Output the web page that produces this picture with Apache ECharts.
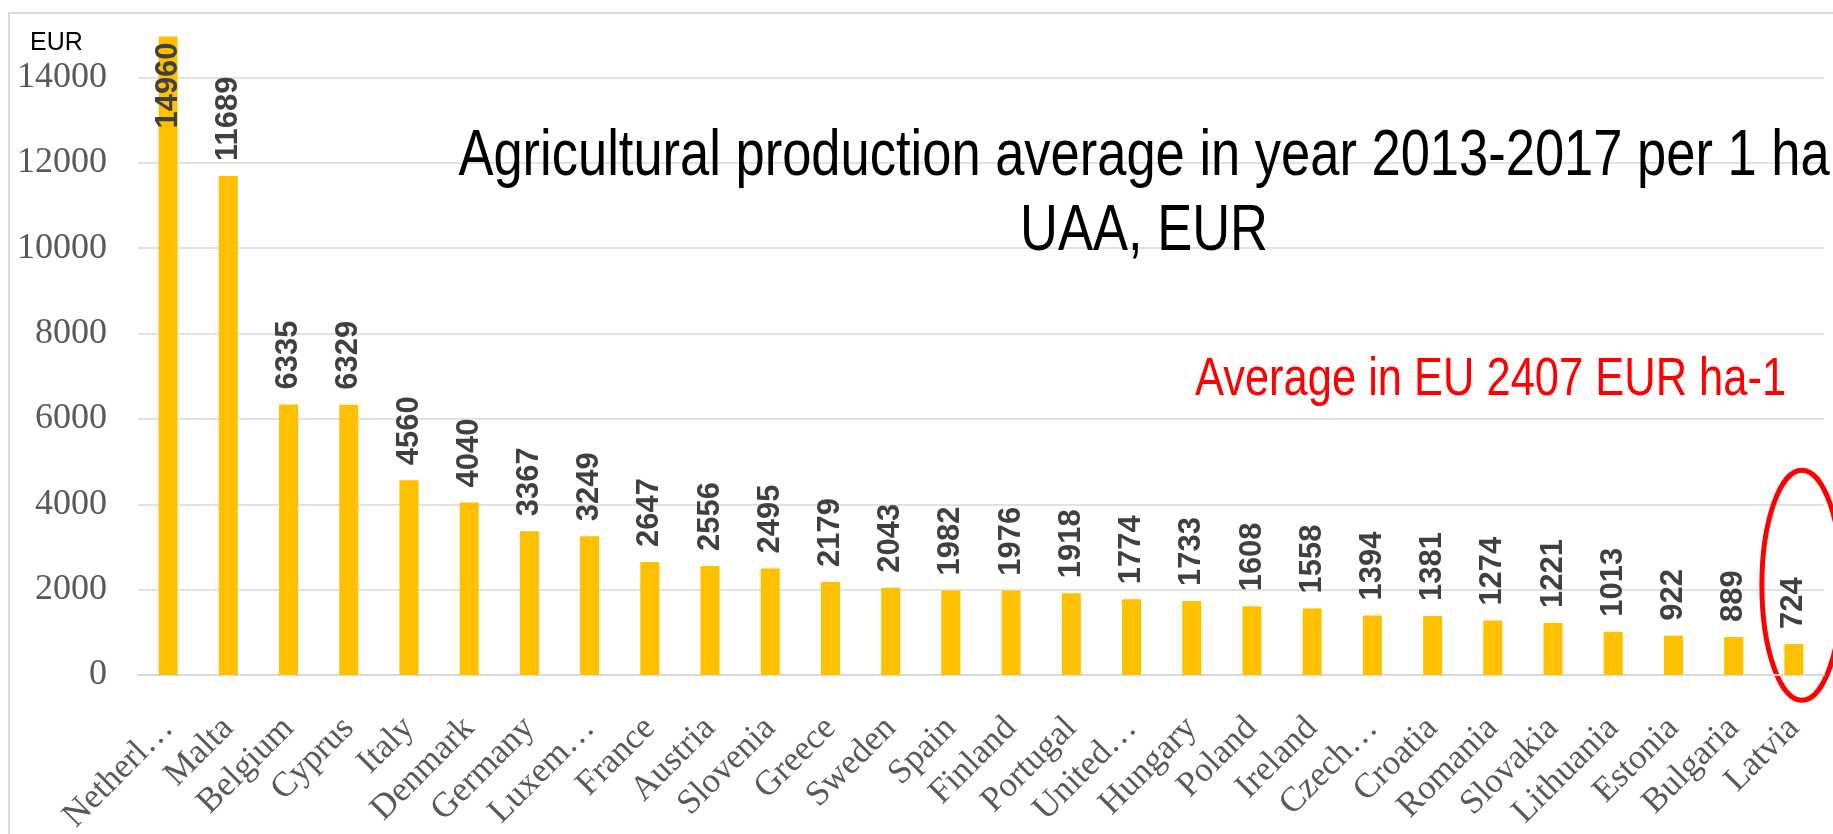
<!DOCTYPE html>
<html>
<head>
<meta charset="utf-8">
<script src="https://cdn.jsdelivr.net/npm/echarts@6/dist/echarts.min.js"></script>
<style>
  html, body { margin: 0; padding: 0; background: #fff; }
  #chart { width: 1833px; height: 834px; }
</style>
</head>
<body>
<div id="chart"></div>
<script>
// countries as shown on the axis (Excel truncated the long ones)
const countries = [
  'Netherl…', 'Malta', 'Belgium', 'Cyprus', 'Italy', 'Denmark', 'Germany',
  'Luxem…', 'France', 'Austria', 'Slovenia', 'Greece', 'Sweden', 'Spain',
  'Finland', 'Portugal', 'United…', 'Hungary', 'Poland', 'Ireland', 'Czech…',
  'Croatia', 'Romania', 'Slovakia', 'Lithuania', 'Estonia', 'Bulgaria', 'Latvia'
];
const values = [
  14960, 11689, 6335, 6329, 4560, 4040, 3367,
  3249, 2647, 2556, 2495, 2179, 2043, 1982,
  1976, 1918, 1774, 1733, 1608, 1558, 1394,
  1381, 1274, 1221, 1013, 922, 889, 724
];
const yMin = 0;
const yMax = 16000;
const yStep = 2000;

const titleLines = ['Agricultural production average in year 2013-2017 per 1 ha', 'UAA, EUR'];
const noteText = 'Average in EU 2407 EUR ha-1';
const unitText = 'EUR';
const highlighted = 'Latvia';

const sans = "'Liberation Sans', Arial, sans-serif";
const serif = "'Liberation Serif', 'Times New Roman', serif";
const gridColor = '#D9D9D9';
const squeeze = 0.82; // Arial -> Arial Narrow look

const chart = echarts.init(document.getElementById('chart'));

// tallest bar has no room above it, so its label goes inside
const barData = values.map((v, i) =>
  i === 0 ? { value: v, label: { position: 'insideTop', align: 'right', distance: 6 } } : v
);

chart.setOption({
  animation: false,
  backgroundColor: '#fff',
  // top of the value axis (16000) sits just above the picture
  grid: { left: 138, right: 9, top: -8, bottom: 159, outerBoundsMode: 'none' },
  xAxis: {
    type: 'category',
    data: countries,
    axisTick: { show: false },
    axisLine: { lineStyle: { color: gridColor, width: 2 } },
    axisLabel: {
      interval: 0,
      rotate: 45,
      margin: 48,
      // top padding nudges the slanted text to the right, like Excel
      padding: [70, 0, 0, 0],
      fontFamily: serif,
      fontSize: 35,
      color: '#595959'
    }
  },
  yAxis: {
    type: 'value',
    min: yMin,
    max: yMax,
    interval: yStep,
    axisLine: { show: false },
    axisTick: { show: false },
    splitLine: { lineStyle: { color: gridColor, width: 1.5 } },
    axisLabel: {
      margin: 31,
      showMaxLabel: false,
      formatter: (v) => String(v),
      fontFamily: serif,
      fontSize: 36,
      color: '#595959'
    }
  },
  series: [{
    type: 'bar',
    data: barData,
    barWidth: 19,
    itemStyle: { color: '#FFC000' },
    label: {
      show: true,
      position: 'top',
      rotate: 90,
      align: 'left',
      verticalAlign: 'middle',
      distance: 15,
      fontFamily: sans,
      fontSize: 31,
      fontWeight: 'bold',
      color: '#404040'
    }
  }]
});

// annotations: frame, unit, title, red note and the ring around Latvia
const ringCentre = chart.convertToPixel({ gridIndex: 0 }, [countries.indexOf(highlighted), 2100]);

chart.setOption({
  graphic: [
    {
      type: 'rect',
      z: -1,
      shape: { x: 9, y: 13, width: 1900, height: 900 },
      style: { fill: null, stroke: gridColor, lineWidth: 2 }
    },
    {
      type: 'text',
      x: 30, y: 43,
      style: { text: unitText, font: '25px ' + sans, fill: '#000', verticalAlign: 'middle' }
    },
    {
      type: 'text',
      x: 1144, y: 120,
      scaleX: squeeze,
      style: {
        text: titleLines.join('\n'),
        font: '64px ' + sans,
        lineHeight: 75,
        fill: '#000',
        align: 'center',
        verticalAlign: 'top'
      }
    },
    {
      type: 'text',
      x: 1195, y: 380,
      scaleX: squeeze,
      style: { text: noteText, font: '53px ' + sans, fill: '#FF0000', verticalAlign: 'middle' }
    },
    {
      type: 'ellipse',
      shape: { cx: ringCentre[0] + 8, cy: ringCentre[1], rx: 40, ry: 115 },
      style: { fill: null, stroke: '#FF0000', lineWidth: 5 }
    }
  ]
});
</script>
</body>
</html>
